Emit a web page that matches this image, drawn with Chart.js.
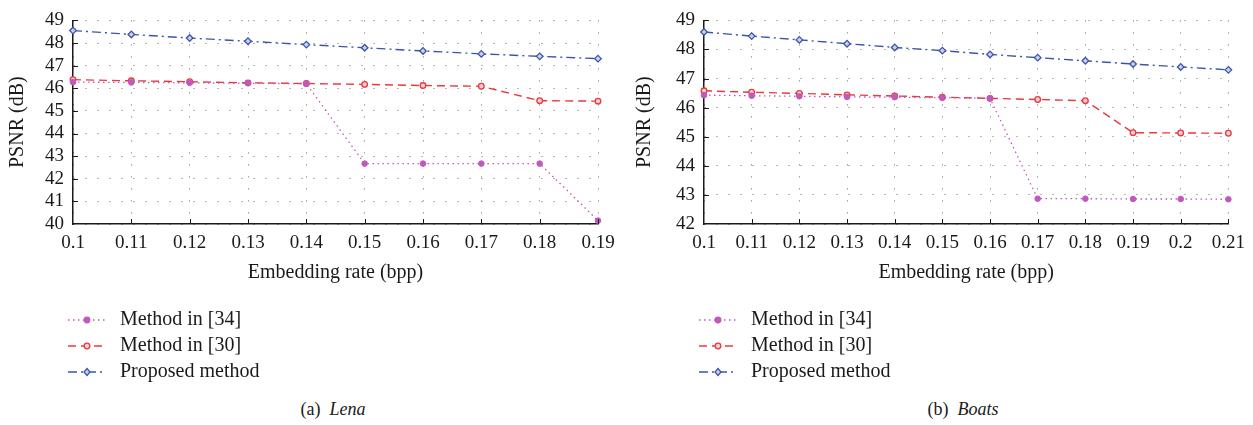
<!DOCTYPE html>
<html>
<head>
<meta charset="utf-8">
<script src="https://cdn.jsdelivr.net/npm/chart.js@4/dist/chart.umd.min.js"></script>
<style>
  body { margin: 0; background: #fff; }
  #wrap { position: relative; width: 1253px; height: 425px; font-family: "Liberation Serif", serif; color: #1a1a1a; }
  .panel { position: absolute; top: 0; height: 425px; }
  .panel canvas { position: absolute; left: 0; top: 0; }
  .caption { position: absolute; top: 399px; font-size: 18px; white-space: pre; transform: translateX(-50%); }
  .caption i { font-style: italic; }
</style>
</head>
<body>
<div id="wrap">
  <div class="panel" style="left:0;width:627px">
    <canvas id="lenaChart" width="627" height="390"></canvas>
    <div class="caption" style="left:333px">(a)  <i>Lena</i></div>
  </div>
  <div class="panel" style="left:627px;width:626px">
    <canvas id="boatsChart" width="626" height="390"></canvas>
    <div class="caption" style="left:336px">(b)  <i>Boats</i></div>
  </div>
</div>
<script>
// embedding rates (bpp) and PSNR (dB)
const lenaRates = ["0.1", "0.11", "0.12", "0.13", "0.14", "0.15", "0.16", "0.17", "0.18", "0.19"];
const lenaRef34 = [46.27, 46.26, 46.24, 46.22, 46.2, 42.67, 42.67, 42.67, 42.67, 40.15];
const lenaRef30 = [46.38, 46.33, 46.29, 46.24, 46.21, 46.17, 46.12, 46.09, 45.45, 45.43];
const lenaProposed = [48.55, 48.38, 48.22, 48.08, 47.93, 47.79, 47.65, 47.52, 47.41, 47.31];

const boatsRates = ["0.1", "0.11", "0.12", "0.13", "0.14", "0.15", "0.16", "0.17", "0.18", "0.19", "0.2", "0.21"];
const boatsRef34 = [46.43, 46.41, 46.39, 46.37, 46.36, 46.34, 46.32, 42.87, 42.87, 42.86, 42.86, 42.85];
const boatsRef30 = [46.58, 46.53, 46.49, 46.44, 46.4, 46.36, 46.32, 46.28, 46.24, 45.14, 45.13, 45.12];
const boatsProposed = [48.6, 48.46, 48.33, 48.2, 48.07, 47.96, 47.83, 47.72, 47.61, 47.5, 47.4, 47.3];

const seriesNames = ["Method in [34]", "Method in [30]", "Proposed method"];

const FONT = "'Liberation Serif', serif";
const INK = "#1a1a1a";
const MAGENTA = "#c158bd";
const RED = "#e8393e";
const BLUE = "#3c55ab";

// little tick marks pointing into the plot, plus the stacked legend under the axis title
const paperDecor = {
  id: "paperDecor",
  afterDatasetsDraw(chart) {
    const ctx = chart.ctx;
    const area = chart.chartArea;
    const xs = chart.scales.x;
    const ys = chart.scales.y;
    ctx.save();
    ctx.strokeStyle = INK;
    ctx.lineWidth = 1;
    ctx.beginPath();
    xs.ticks.forEach((t, i) => {
      if (i === 0) return;
      const px = Math.round(xs.getPixelForTick(i)) + 0.5;
      ctx.moveTo(px, area.bottom);
      ctx.lineTo(px, area.bottom - 5);
    });
    ys.ticks.forEach((t, i) => {
      if (i === 0) return;
      const py = Math.round(ys.getPixelForTick(i)) + 0.5;
      ctx.moveTo(area.left, py);
      ctx.lineTo(area.left + 5, py);
    });
    ctx.stroke();
    ctx.restore();
  },
  afterDraw(chart) {
    const ctx = chart.ctx;
    const left = chart.chartArea.left;
    const rowY = [320, 346, 372];
    ctx.save();
    chart.data.datasets.forEach((ds, i) => {
      const y = rowY[i];
      ctx.strokeStyle = ds.borderColor;
      ctx.lineWidth = 1.3;
      ctx.setLineDash(ds.borderDash);
      ctx.beginPath();
      ctx.moveTo(left - 5, y);
      ctx.lineTo(left + 33, y);
      ctx.stroke();
      ctx.setLineDash([]);
      const cx = left + 14;
      ctx.fillStyle = ds.pointBackgroundColor;
      ctx.beginPath();
      if (ds.pointStyle === "rectRot") {
        ctx.moveTo(cx, y - 3.5); ctx.lineTo(cx + 3, y); ctx.lineTo(cx, y + 3.5); ctx.lineTo(cx - 3, y); ctx.closePath();
      } else {
        ctx.arc(cx, y, 2.8, 0, Math.PI * 2);
      }
      ctx.fill();
      ctx.stroke();
      ctx.fillStyle = INK;
      ctx.font = "20px " + FONT;
      ctx.textBaseline = "middle";
      ctx.fillText(ds.label, left + 47, y);
    });
    ctx.restore();
  }
};

function makeChart(canvasId, rates, ref34, ref30, proposed, yMin, yMax, axisWidth, padRight) {
  const ctx = document.getElementById(canvasId);
  return new Chart(ctx, {
    type: "line",
    data: {
      labels: rates,
      datasets: [
        {
          label: seriesNames[0],
          data: ref34,
          borderColor: MAGENTA,
          borderWidth: 1.3,
          borderDash: [1.5, 3.5],
          pointStyle: "circle",
          pointRadius: 2.8,
          pointBackgroundColor: MAGENTA,
          pointBorderColor: MAGENTA,
          pointBorderWidth: 1,
          tension: 0,
        },
        {
          label: seriesNames[1],
          data: ref30,
          borderColor: RED,
          borderWidth: 1.4,
          borderDash: [8, 5],
          pointStyle: "circle",
          pointRadius: 2.8,
          pointBackgroundColor: "#f7d0d2",
          pointBorderColor: RED,
          pointBorderWidth: 1.3,
          tension: 0,
        },
        {
          label: seriesNames[2],
          data: proposed,
          borderColor: BLUE,
          borderWidth: 1.4,
          borderDash: [9, 4, 2, 4],
          pointStyle: "rectRot",
          pointRadius: 3.3,
          pointBackgroundColor: "#c9d1ee",
          pointBorderColor: BLUE,
          pointBorderWidth: 1.3,
          tension: 0,
        },
      ],
    },
    options: {
      responsive: false,
      animation: false,
      layout: { padding: { left: 0, right: padRight, top: 16, bottom: 101 } },
      plugins: { legend: { display: false }, tooltip: { enabled: false } },
      scales: {
        x: {
          type: "category",
          offset: false,
          grid: { color: "#6f6f6f", lineWidth: 1, drawTicks: false },
          border: { display: true, color: INK, width: 1.5, dash: [1, 11] },
          ticks: { color: INK, padding: 8, maxRotation: 0, autoSkip: false, font: { family: FONT, size: 19 } },
          title: { display: true, text: "Embedding rate (bpp)", color: INK, font: { family: FONT, size: 20 }, padding: { top: 4, bottom: 4 } },
          afterFit: (s) => { s.height = 65; },
        },
        y: {
          min: yMin,
          max: yMax,
          grid: { color: "#6f6f6f", lineWidth: 1, drawTicks: false },
          border: { display: true, color: INK, width: 1.5, dash: [1, 11] },
          ticks: { stepSize: 1, autoSkip: false, color: INK, padding: 9, font: { family: FONT, size: 19 } },
          title: { display: true, text: "PSNR (dB)", color: INK, font: { family: FONT, size: 20 }, padding: { top: 6, bottom: 4 } },
          afterFit: (s) => { s.width = axisWidth; },
        },
      },
    },
    plugins: [paperDecor],
  });
}

makeChart("lenaChart", lenaRates, lenaRef34, lenaRef30, lenaProposed, 40, 49, 73, 29);
makeChart("boatsChart", boatsRates, boatsRef34, boatsRef30, boatsProposed, 42, 49, 77, 23);
</script>
</body>
</html>
